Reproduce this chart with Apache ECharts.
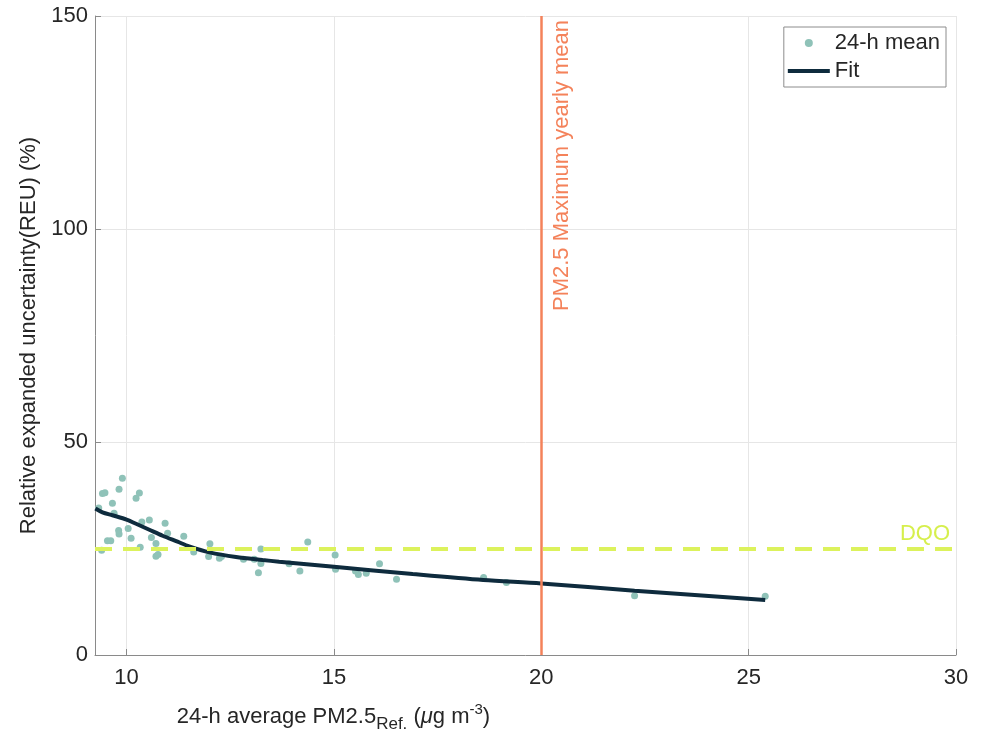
<!DOCTYPE html>
<html>
<head>
<meta charset="utf-8">
<script src="https://cdn.jsdelivr.net/npm/echarts@6/dist/echarts.min.js"></script>
<style>
html,body{margin:0;padding:0;background:#fff;}
#chart{width:990px;height:734px;}
</style>
</head>
<body>
<div id="chart"></div>
<script>
// 24-h mean scatter points (x: PM2.5 ref, y: REU %)
const meanX = [9.33, 9.40, 9.42, 9.48, 9.90, 9.82, 10.23, 10.31, 9.66, 9.70, 9.54, 9.62, 9.81, 9.82, 10.04, 10.11, 10.33, 10.37, 10.55, 10.60, 10.71, 10.71, 10.76, 10.93, 10.99, 11.38, 11.62, 12.01, 11.98, 12.24, 12.29, 12.82, 13.08, 13.24, 13.24, 13.18, 13.92, 14.18, 14.37, 15.03, 15.04, 15.52, 15.59, 15.78, 16.10, 16.51, 18.61, 19.16, 22.25, 25.40];
const meanY = [34.5, 24.6, 37.9, 38.1, 41.5, 38.9, 36.8, 38.0, 35.6, 33.3, 26.8, 26.8, 29.2, 28.4, 29.7, 27.4, 25.3, 31.2, 31.7, 27.6, 26.2, 23.2, 23.6, 30.9, 28.6, 27.9, 24.2, 26.1, 23.1, 22.7, 23.1, 22.5, 22.5, 24.9, 21.5, 19.3, 21.4, 19.7, 26.5, 23.5, 20.1, 19.7, 18.9, 19.2, 21.4, 17.8, 18.2, 17.0, 13.9, 13.8];
// Fit curve
const fitX = [9.25, 9.42, 9.66, 10.0, 10.23, 10.55, 10.87, 11.23, 11.51, 12.0, 12.64, 13.28, 13.68, 15.0, 16.9, 18.6, 20.0, 22.25, 25.4];
const fitY = [34.4, 33.5, 32.8, 31.8, 30.8, 29.4, 28.0, 26.6, 25.5, 24.1, 23.0, 22.3, 21.9, 20.7, 19.0, 17.6, 16.8, 15.1, 12.9];
// Reference lines
const limitX = 20;
const dqoY = 25;
const xRange = [9.24, 30];
const yTicks = [0, 50, 100, 150];

const chart = echarts.init(document.getElementById('chart'));
const font = 'Liberation Sans, Arial, Helvetica, sans-serif';
const txt = '#262626';

chart.setOption({
  animation: false,
  backgroundColor: '#fff',
  textStyle: {fontFamily: font},
  grid: {left: 95, right: 34, top: 16, bottom: 79, containLabel: false, outerBoundsMode: 'none'},
  legend: {
    orient: 'vertical',
    right: 44, top: 27,
    padding: [5, 6, 5, 4],
    borderColor: '#8c8c8c', borderWidth: 1,
    backgroundColor: '#fff',
    itemWidth: 42, itemHeight: 8, itemGap: 6,
    textStyle: {fontSize: 22, color: txt, fontFamily: font},
    data: [
      {name: '24-h mean', icon: 'circle'},
      {name: 'Fit', icon: 'path://M0,0 L40,0 L40,4 L0,4 Z'}
    ]
  },
  xAxis: {
    type: 'value', min: xRange[0], max: xRange[1],
    name: '24-h average PM2.5{sub|Ref.} ({mu|μ}g m{sup|-3})',
    nameLocation: 'middle', nameGap: 45,
    nameTextStyle: {
      fontSize: 22, color: txt, padding: [0, 384, 0, 0],
      rich: {
        sub: {fontSize: 17, color: txt, padding: [16, 0, 0, 0]},
        mu: {fontSize: 22, color: txt, fontStyle: 'italic'},
        sup: {fontSize: 15, color: txt, padding: [0, 0, 14, 0]}
      }
    },
    axisLine: {show: true, lineStyle: {color: '#8a8a8a', width: 1}},
    axisTick: {show: true, inside: true, length: 6, lineStyle: {color: '#8a8a8a'}},
    axisLabel: {fontSize: 22, color: txt, margin: 12, showMinLabel: false},
    splitLine: {show: true, lineStyle: {color: '#e6e6e6', width: 1}}
  },
  yAxis: {
    type: 'value', min: yTicks[0], max: yTicks[yTicks.length - 1], interval: 50,
    name: 'Relative expanded uncertainty(REU) (%)',
    nameLocation: 'middle', nameGap: 50,
    nameTextStyle: {fontSize: 22, color: txt},
    axisLine: {show: true, lineStyle: {color: '#8a8a8a', width: 1}},
    axisTick: {show: true, inside: true, length: 6, lineStyle: {color: '#8a8a8a'}},
    axisLabel: {fontSize: 22, color: txt, margin: 7},
    splitLine: {show: true, lineStyle: {color: '#e6e6e6', width: 1}}
  },
  series: [
    {
      name: '24-h mean', type: 'scatter',
      data: meanX.map((x, i) => [x, meanY[i]]),
      symbolSize: 7,
      itemStyle: {color: '#8fc2b8', opacity: 1},
      z: 3,
      markLine: {
        silent: true, symbol: 'none', animation: false,
        data: [
          {
            xAxis: limitX,
            lineStyle: {color: '#f4825a', width: 2.5, type: 'solid'},
            label: {
              show: true, position: 'insideEndBottom', formatter: 'PM2.5 Maximum yearly mean',
              color: '#f4825a', fontSize: 22, fontFamily: font, distance: [4, 10]
            }
          },
          {
            yAxis: dqoY,
            lineStyle: {color: '#dcf25c', width: 4, type: [17, 11]},
            label: {
              show: true, position: 'insideEndTop', formatter: 'DQO',
              color: '#d6ef4c', fontSize: 22, fontFamily: font, distance: [6, 4]
            }
          }
        ]
      }
    },
    {
      name: 'Fit', type: 'line',
      data: fitX.map((x, i) => [x, fitY[i]]),
      showSymbol: false, symbol: 'none', smooth: 0.3,
      lineStyle: {color: '#0e2b3d', width: 4},
      itemStyle: {color: '#0e2b3d'},
      z: 4
    }
  ]
});
</script>
</body>
</html>
